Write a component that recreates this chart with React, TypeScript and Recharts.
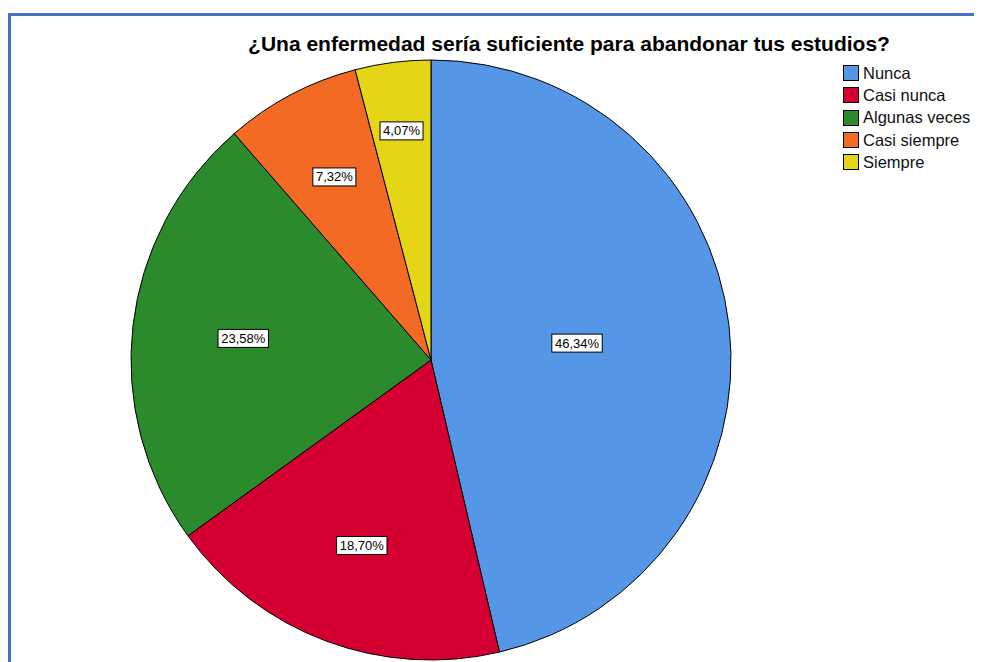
import React from 'react';
import { PieChart, Pie, Cell, Legend } from 'recharts';

const categories = ['Nunca', 'Casi nunca', 'Algunas veces', 'Casi siempre', 'Siempre'];
const percents = [46.34, 18.7, 23.58, 7.32, 4.07];
const colors = ['#5596E6', '#D40032', '#2B8A2B', '#F26A24', '#E5D517'];

const title = '¿Una enfermedad sería suficiente para abandonar tus estudios?';

// label distance from centre as share of radius (SPSS places them unevenly)
const labelRadius = [0.49, 0.66, 0.63, 0.69, 0.77];

const data = categories.map((name, i) => ({ name, value: percents[i] }));

const fmt = (v: number) => v.toFixed(2).replace('.', ',') + '%';

const RADIAN = Math.PI / 180;

const renderLabel = (props: any) => {
  const { cx, cy, midAngle, outerRadius, value, index } = props;
  const r = outerRadius * labelRadius[index];
  const x = cx + r * Math.cos(-midAngle * RADIAN);
  const y = cy + r * Math.sin(-midAngle * RADIAN);
  const text = fmt(value);
  const w = text.length * 7.4 + 6;
  const h = 18;
  return (
    <g>
      <rect x={x - w / 2} y={y - h / 2} width={w} height={h} fill="#fff" stroke="#000" strokeWidth={1} />
      <text x={x} y={y + 1} textAnchor="middle" dominantBaseline="middle" fontSize={13} fill="#000"
        fontFamily="'Liberation Sans', Arial, sans-serif">
        {text}
      </text>
    </g>
  );
};

const LegendBox = () => (
  <div style={{ fontFamily: "'Liberation Sans', Arial, sans-serif", fontSize: 16.5, color: '#111', lineHeight: 1 }}>
    {categories.map((c, i) => (
      <div key={c} style={{ display: 'flex', alignItems: 'center', height: 22.3 }}>
        <span style={{ width: 16, height: 16, background: colors[i], border: '1px solid #000', marginRight: 4, boxSizing: 'border-box', flexShrink: 0 }} />
        <span style={{ whiteSpace: 'nowrap' }}>{c}</span>
      </div>
    ))}
  </div>
);

export default function App() {
  return (
    <div style={{ position: 'relative', width: 974, height: 654, overflow: 'hidden', background: '#fff' }}>
      <div style={{ position: 'absolute', left: 0, top: 5, right: 0, bottom: 0, borderTop: '3px solid #4472C4', borderLeft: '3px solid #4472C4' }} />
      <div style={{ position: 'absolute', left: 0, width: 1122, top: 24, textAlign: 'center', fontFamily: "'Liberation Sans', Arial, sans-serif", fontWeight: 'bold', fontSize: 21, color: '#000' }}>
        {title}
      </div>
      <div style={{ position: 'absolute', left: 0, top: 0 }}>
        <PieChart width={974} height={654}>
          <Pie
            data={data}
            dataKey="value"
            nameKey="name"
            cx={418}
            cy={347}
            outerRadius={300}
            startAngle={90}
            endAngle={-270}
            stroke="#000"
            strokeWidth={1}
            label={renderLabel}
            labelLine={false}
            isAnimationActive={false}
          >
            {data.map((d, i) => (
              <Cell key={d.name} fill={colors[i]} />
            ))}
          </Pie>
          <Legend
            content={<LegendBox />}
            layout="vertical"
            verticalAlign="top"
            align="right"
            wrapperStyle={{ position: 'absolute', left: 835, top: 54, width: 140 }}
          />
        </PieChart>
      </div>
    </div>
  );
}
